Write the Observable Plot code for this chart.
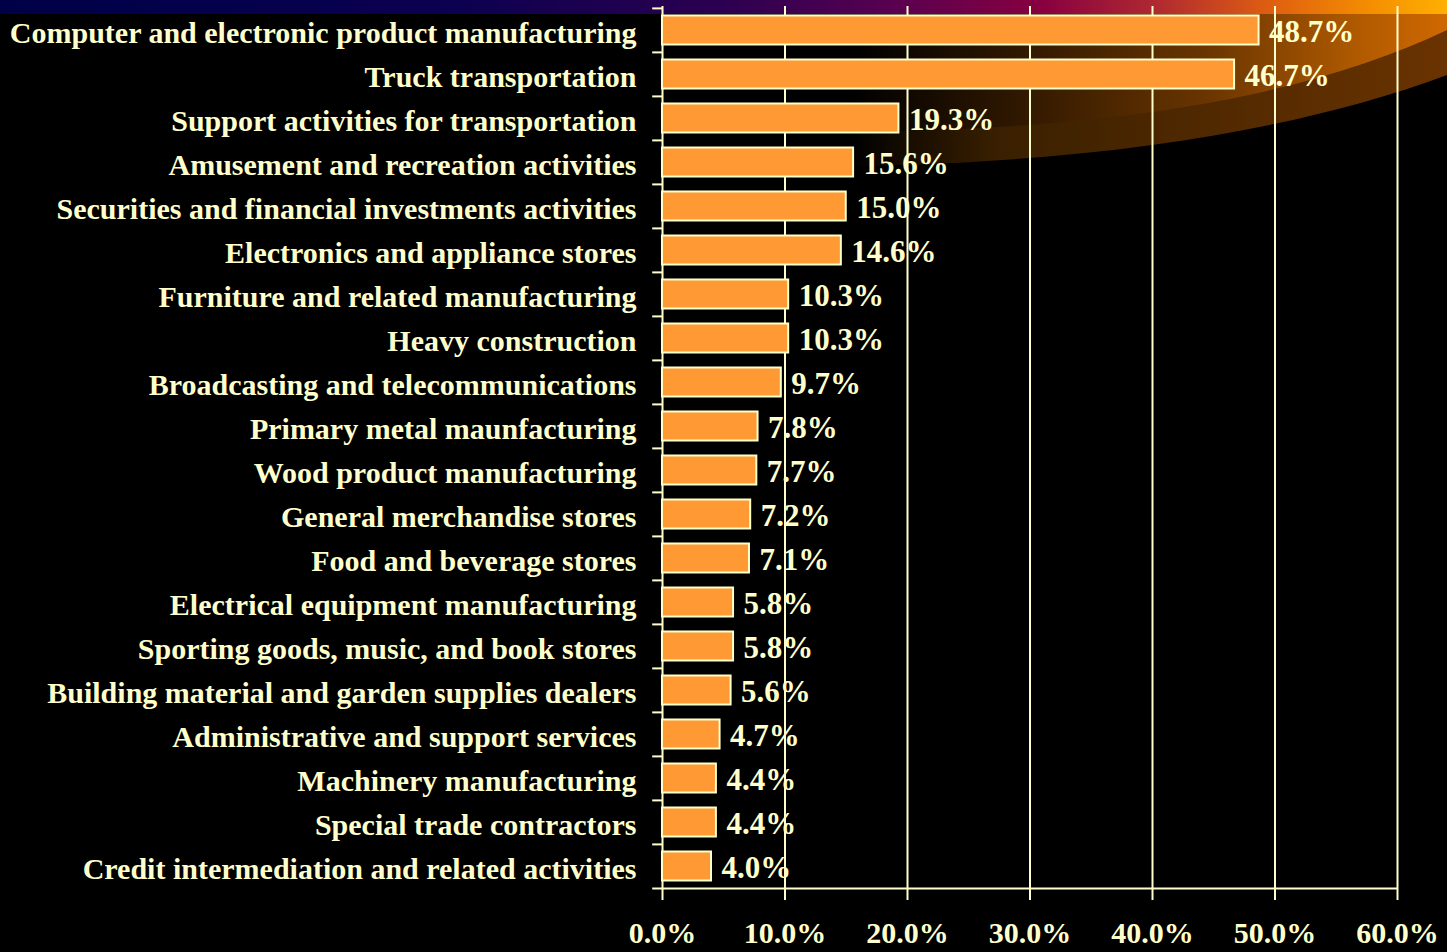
<!DOCTYPE html>
<html>
<head>
<meta charset="utf-8">
<script src="https://cdn.jsdelivr.net/npm/d3@7"></script>
<script src="https://cdn.jsdelivr.net/npm/@observablehq/plot@0.6"></script>
<style>
  html, body { margin: 0; padding: 0; background: #000; }
  #wrap { position: relative; width: 1447px; height: 952px; overflow: hidden; }
  #decor { position: absolute; left: 0; top: 0; z-index: 0; }
  #chart { position: absolute; left: 0; top: 0; z-index: 1; }
</style>
</head>
<body>
<div id="wrap">
  <svg id="decor" width="1447" height="952">
    <defs>
      <linearGradient id="band" x1="0" x2="1" y1="0" y2="0">
        <stop offset="0" stop-color="#000048"/>
        <stop offset="0.3" stop-color="#0a0050"/>
        <stop offset="0.5" stop-color="#2c0050"/>
        <stop offset="0.62" stop-color="#5a0050"/>
        <stop offset="0.72" stop-color="#880040"/>
        <stop offset="0.8" stop-color="#b02a30"/>
        <stop offset="0.88" stop-color="#e06010"/>
        <stop offset="0.95" stop-color="#f59000"/>
        <stop offset="1" stop-color="#ffb000"/>
      </linearGradient>
      <linearGradient id="outer" gradientUnits="userSpaceOnUse" x1="850" x2="1447" y1="0" y2="0">
        <stop offset="0" stop-color="#000"/>
        <stop offset="0.25" stop-color="#3a2000"/>
        <stop offset="1" stop-color="#6a3300"/>
      </linearGradient>
      <linearGradient id="inner" gradientUnits="userSpaceOnUse" x1="850" x2="1447" y1="0" y2="0">
        <stop offset="0" stop-color="#000"/>
        <stop offset="0.25" stop-color="#2a1500"/>
        <stop offset="0.6" stop-color="#6a3500"/>
        <stop offset="0.85" stop-color="#b05a00"/>
        <stop offset="1" stop-color="#d06800"/>
      </linearGradient>
    </defs>
    <path d="M700,14 L1447,14 L1447,75 C1300,130 1100,162 860,166 C780,166 720,100 700,14 Z" fill="url(#outer)"/>
    <path d="M700,14 L1447,14 L1447,30 C1320,90 1150,125 900,131 C800,131 720,80 700,14 Z" fill="url(#inner)"/>
    <rect x="0" y="0" width="1447" height="14" fill="url(#band)"/>
  </svg>
  <div id="chart"></div>
</div>
<script>
const categories = [
  "Computer and electronic product manufacturing",
  "Truck transportation",
  "Support activities for transportation",
  "Amusement and recreation activities",
  "Securities and financial investments activities",
  "Electronics and appliance stores",
  "Furniture and related manufacturing",
  "Heavy construction",
  "Broadcasting and telecommunications",
  "Primary metal maunfacturing",
  "Wood product manufacturing",
  "General merchandise stores",
  "Food and beverage stores",
  "Electrical equipment manufacturing",
  "Sporting goods, music, and book stores",
  "Building material and garden supplies dealers",
  "Administrative and support services",
  "Machinery manufacturing",
  "Special trade contractors",
  "Credit intermediation and related activities"
];
const values = [48.7, 46.7, 19.3, 15.6, 15.0, 14.6, 10.3, 10.3, 9.7, 7.8, 7.7, 7.2, 7.1, 5.8, 5.8, 5.6, 4.7, 4.4, 4.4, 4.0];
const xTicks = [0, 10, 20, 30, 40, 50, 60];

const data = categories.map((c, i) => ({category: c, value: values[i]}));
const cream = "#FFFFCC";
const H = 952, mT = 6, mB = 62;
const halfStep = (H - mT - mB) / categories.length / 2;

const chart = Plot.plot({
  width: 1447,
  height: H,
  marginLeft: 662,
  marginRight: 50,
  marginTop: mT,
  marginBottom: mB,
  style: {background: "transparent", color: cream, fontFamily: "'Liberation Serif', 'Times New Roman', serif", fontWeight: "bold"},
  x: {domain: [0, 60], label: null},
  y: {domain: categories, padding: 0, label: null},
  marks: [
    Plot.ruleX(xTicks, {stroke: cream, strokeWidth: 2}),
    Plot.ruleY(categories, {y: d => d, x1: -0.8, x2: 0, dy: -halfStep, stroke: cream, strokeWidth: 2}),
    Plot.ruleY([categories[categories.length - 1]], {y: d => d, x1: -0.8, x2: 60, dy: halfStep, stroke: cream, strokeWidth: 2}),
    Plot.barX(data, {x: "value", y: "category", fill: "#FF9933", stroke: cream, strokeWidth: 2, insetTop: 7.5, insetBottom: 7.5}),
    Plot.text(data, {x: "value", y: "category", text: d => d.value.toFixed(1) + "%", textAnchor: "start", dx: 10, dy: 2, fontSize: 31, fill: cream}),
    Plot.axisY({tickSize: 0, tickPadding: 26, fontSize: 30, fill: cream, dy: 3}),
    Plot.axisX({ticks: xTicks, tickFormat: d => d.toFixed(1) + "%", tickSize: 10, tickPadding: 21, fontSize: 30, stroke: cream, strokeWidth: 2, fill: cream})
  ]
});
document.getElementById("chart").appendChild(chart);
</script>
</body>
</html>
